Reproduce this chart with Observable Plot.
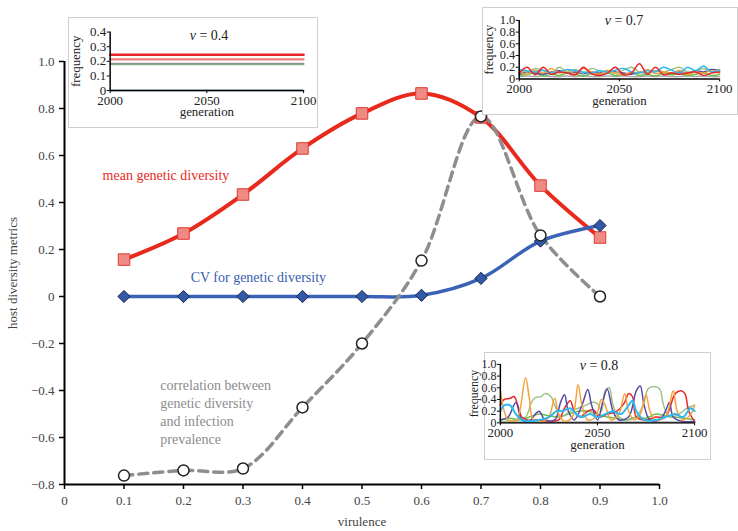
<!DOCTYPE html>
<html><head><meta charset="utf-8">
<script src="https://cdn.jsdelivr.net/npm/d3@7"></script>
<script src="https://cdn.jsdelivr.net/npm/@observablehq/plot@0.6"></script>
<style>
body{margin:0;background:#fff;font-family:"Liberation Serif",serif;}
#wrap{position:relative;width:738px;height:531px;overflow:hidden;}
#wrap > svg{position:absolute;left:0;top:0;}
#wrap svg, #wrap svg text{font-family:"Liberation Serif", serif !important;}
.inset{position:absolute;background:#fff;border:1px solid #cfcfcf;box-sizing:border-box;}
.inset svg{overflow:visible;position:absolute;left:-1px;top:-1px;}
.ititle{position:absolute;font-size:14px;color:#222;transform:translate(-50%,-50%);white-space:nowrap;font-family:"Liberation Serif",serif;}
</style></head><body><div id="wrap"></div>
<script>
// ---------- main chart data ----------
const virulence = [0.1, 0.2, 0.3, 0.4, 0.5, 0.6, 0.7, 0.8, 0.9];
const meanDiversity = [0.157, 0.268, 0.434, 0.63, 0.779, 0.864, 0.762, 0.472, 0.251];
const cvDiversity = [0, 0, 0, 0, 0, 0.005, 0.077, 0.236, 0.302];
const correlation = [-0.762, -0.74, -0.732, -0.472, -0.2, 0.153, 0.766, 0.26, 0.0];
const xTicks = [0, 0.1, 0.2, 0.3, 0.4, 0.5, 0.6, 0.7, 0.8, 0.9, 1.0];
const yTicks = [-0.8, -0.6, -0.4, -0.2, 0, 0.2, 0.4, 0.6, 0.8, 1.0];

// annotation labels (data coordinates)
const labelMean = {x: 0.064, y: 0.515, text: "mean genetic diversity"};
const labelCV = {x: 0.212, y: 0.081, text: "CV for genetic diversity"};
const labelCorr = {x: 0.161, y: -0.374, text: "correlation between\ngenetic diversity\nand infection\nprevalence"};

// ---------- inset v = 0.4 ----------
const gen04 = [2000, 2100];
const v04Red = [0.245, 0.245];
const v04Pink = [0.214, 0.214];
const v04Gray = [0.184, 0.184];
const v04Green = [0.179, 0.179];
const v04Blue = [0.0, 0.0];

// ---------- inset v = 0.7 (every 4 generations) ----------
const gen07 = [2000,2004,2008,2012,2016,2020,2024,2028,2032,2036,2040,2044,2048,2052,2056,2060,2064,2068,2072,2076,2080,2084,2088,2092,2096,2100];
const v07Red    = [0.10,0.20,0.07,0.20,0.08,0.12,0.10,0.07,0.20,0.09,0.06,0.10,0.20,0.07,0.10,0.26,0.08,0.20,0.07,0.10,0.08,0.10,0.12,0.06,0.10,0.12];
const v07Orange = [0.12,0.08,0.15,0.10,0.18,0.10,0.16,0.08,0.18,0.12,0.08,0.15,0.10,0.07,0.12,0.10,0.16,0.09,0.12,0.10,0.15,0.08,0.12,0.10,0.14,0.10];
const v07Sage   = [0.15,0.12,0.18,0.14,0.10,0.20,0.12,0.16,0.10,0.18,0.14,0.12,0.10,0.15,0.20,0.12,0.10,0.14,0.12,0.16,0.20,0.12,0.14,0.18,0.12,0.16];
const v07Cyan   = [0.16,0.14,0.12,0.15,0.10,0.12,0.16,0.14,0.12,0.10,0.14,0.12,0.15,0.18,0.12,0.10,0.14,0.12,0.20,0.15,0.10,0.20,0.14,0.22,0.12,0.15];
const v07Purple = [0.08,0.12,0.10,0.08,0.12,0.14,0.10,0.12,0.09,0.12,0.10,0.14,0.12,0.10,0.08,0.12,0.10,0.14,0.12,0.10,0.12,0.10,0.14,0.12,0.16,0.14];
const v07Green  = [0.06,0.08,0.10,0.05,0.08,0.06,0.10,0.08,0.05,0.09,0.07,0.10,0.06,0.08,0.10,0.06,0.08,0.05,0.10,0.07,0.09,0.06,0.08,0.10,0.06,0.08];
const v07Gray   = [0.04,0.05,0.04,0.05,0.04,0.04,0.05,0.04,0.05,0.04,0.04,0.05,0.04,0.05,0.04,0.04,0.05,0.04,0.05,0.04,0.04,0.05,0.04,0.05,0.04,0.04];

// ---------- inset v = 0.8 ([generation, frequency]) ----------
const v08Orange = [[2000,0.55],[2002,0.2],[2004,0.05],[2008,0.03],[2010,0.2],[2013,0.77],[2015,0.4],[2017,0.05],[2022,0.03],[2025,0.1],[2028,0.42],[2030,0.15],[2033,0.03],[2037,0.1],[2040,0.65],[2042,0.3],[2045,0.05],[2049,0.1],[2052,0.4],[2054,0.3],[2057,0.05],[2061,0.15],[2064,0.5],[2066,0.2],[2069,0.05],[2072,0.15],[2075,0.48],[2077,0.2],[2080,0.05],[2085,0.1],[2089,0.55],[2091,0.2],[2094,0.05],[2098,0.15],[2100,0.3]];
const v08Purple = [[2000,0.05],[2004,0.1],[2008,0.35],[2011,0.05],[2015,0.03],[2018,0.15],[2020,0.2],[2023,0.05],[2028,0.05],[2031,0.35],[2033,0.48],[2035,0.2],[2038,0.05],[2042,0.3],[2045,0.57],[2047,0.3],[2050,0.05],[2053,0.4],[2055,0.58],[2058,0.2],[2061,0.05],[2066,0.1],[2070,0.55],[2072,0.63],[2074,0.3],[2077,0.05],[2082,0.05],[2085,0.2],[2087,0.35],[2089,0.1],[2093,0.03],[2100,0.02]];
const v08Red = [[2000,0.3],[2002,0.4],[2005,0.42],[2007,0.45],[2009,0.3],[2011,0.1],[2014,0.05],[2020,0.05],[2025,0.03],[2030,0.05],[2033,0.25],[2036,0.38],[2038,0.2],[2041,0.1],[2045,0.2],[2048,0.22],[2051,0.1],[2055,0.15],[2060,0.2],[2064,0.35],[2066,0.5],[2068,0.45],[2070,0.1],[2075,0.05],[2080,0.1],[2085,0.1],[2090,0.5],[2093,0.55],[2095,0.5],[2097,0.2],[2100,0.02]];
const v08Sage = [[2000,0.02],[2008,0.05],[2013,0.1],[2016,0.35],[2018,0.43],[2021,0.45],[2023,0.5],[2026,0.45],[2028,0.3],[2031,0.1],[2036,0.2],[2040,0.25],[2044,0.3],[2047,0.35],[2050,0.33],[2052,0.2],[2054,0.55],[2056,0.6],[2058,0.3],[2061,0.1],[2065,0.05],[2070,0.1],[2074,0.35],[2076,0.58],[2079,0.62],[2082,0.58],[2084,0.3],[2087,0.1],[2092,0.15],[2096,0.25],[2100,0.3]];
const v08Cyan = [[2000,0.2],[2002,0.3],[2005,0.3],[2008,0.15],[2011,0.05],[2015,0.03],[2020,0.05],[2025,0.1],[2029,0.2],[2032,0.2],[2036,0.25],[2039,0.15],[2042,0.1],[2046,0.15],[2050,0.1],[2054,0.15],[2058,0.2],[2062,0.15],[2066,0.3],[2068,0.38],[2070,0.2],[2074,0.05],[2080,0.05],[2085,0.1],[2090,0.15],[2094,0.1],[2098,0.25],[2100,0.2]];
const v08Green = [[2000,0.05],[2005,0.08],[2010,0.05],[2015,0.1],[2020,0.15],[2025,0.12],[2030,0.1],[2035,0.15],[2040,0.2],[2045,0.2],[2050,0.15],[2055,0.1],[2060,0.08],[2065,0.05],[2070,0.1],[2075,0.08],[2080,0.15],[2085,0.12],[2090,0.1],[2095,0.08],[2100,0.05]];
const v08Gray = [[2000,0.01],[2050,0.01],[2100,0.01]];

const C = {red:"#e8262a", orange:"#f7a13a", sage:"#9cc38a", cyan:"#2bb8f0", purple:"#5a48a8", green:"#6cc04a", gray:"#a8a8a8", pink:"#f07a7a", slate:"#8a9890", lblue:"#a6ccd8"};

const font = "'Liberation Serif', serif";
const fmt1 = d => d === 0 ? "0" : (d < 0 ? "\u2212" + Math.abs(d).toFixed(1) : d.toFixed(1));

// ---------- main plot ----------
const rows = virulence.map((v, i) => ({v, mean: meanDiversity[i], cv: cvDiversity[i], corr: correlation[i]}));

const main = Plot.plot({
  width: 738, height: 531,
  marginLeft: 64, marginRight: 79, marginTop: 61, marginBottom: 47,
  style: {fontFamily: font, fontSize: "13px", color: "#000", background: "transparent"},
  x: {domain: [0, 1]},
  y: {domain: [-0.8, 1.0]},
  marks: [
    Plot.axisX({ticks: xTicks, tickFormat: d => d === 0 ? "0" : d.toFixed(1), tickSize: 5, tickPadding: 6, fill: "#444", strokeWidth: 1.5,
      label: "virulence", labelAnchor: "center", labelOffset: 41, labelArrow: "none"}),
    Plot.axisY({ticks: yTicks, tickFormat: fmt1, tickSize: 5, tickPadding: 5, fill: "#444", strokeWidth: 1.5,
      label: "host diversity metrics", labelAnchor: "center", labelOffset: 57, labelArrow: "none"}),
    Plot.ruleX([0], {y1: -0.8, y2: 1.0, stroke: "#000", strokeWidth: 2}),
    Plot.ruleY([-0.8], {x1: 0, x2: 1, stroke: "#000", strokeWidth: 2}),
    Plot.line(rows, {x: "v", y: "mean", curve: "catmull-rom", stroke: "#e8291c", strokeWidth: 4}),
    Plot.line(rows, {x: "v", y: "cv", curve: "catmull-rom", stroke: "#3a62b6", strokeWidth: 3.5}),
    Plot.line(rows, {x: "v", y: "corr", curve: "catmull-rom", stroke: "#8e8e8e", strokeWidth: 3.5, strokeDasharray: "9,6"}),
    Plot.dot(rows, {x: "v", y: "mean", symbol: "square", r: 6.5, fill: "#f08a84", stroke: "#dd3a30", strokeWidth: 1}),
    Plot.dot(rows, {x: "v", y: "cv", symbol: "diamond2", r: 5.5, fill: "#3458a8", stroke: "#15244a", strokeWidth: 1}),
    Plot.dot(rows, {x: "v", y: "corr", symbol: "circle", r: 5.5, fill: "#fff", stroke: "#222", strokeWidth: 1.5}),
    Plot.text([labelMean], {x: "x", y: "y", text: "text", textAnchor: "start", fill: "#e8291c", fontSize: 14}),
    Plot.text([labelCV], {x: "x", y: "y", text: "text", textAnchor: "start", fill: "#3a5cb0", fontSize: 14}),
    Plot.text([labelCorr], {x: "x", y: "y", text: "text", textAnchor: "start", lineAnchor: "middle", lineHeight: 1.29, fill: "#8c8c8c", fontSize: 14, dy: 27})
  ]
});
const wrap = document.getElementById("wrap");
wrap.appendChild(main);

// ---------- insets ----------
function toRows(gens, vals, key) { return gens.map((g, i) => ({g, f: vals[i], key})); }
function pairRows(pairs, key) { return pairs.map(([g, f]) => ({g, f, key})); }

function inset(o) {
  const div = document.createElement("div");
  div.className = "inset";
  Object.assign(div.style, {left: o.box[0] + "px", top: o.box[1] + "px", width: o.box[2] + "px", height: o.box[3] + "px"});
  const svg = Plot.plot({
    width: o.box[2], height: o.box[3],
    marginLeft: o.area[0] - o.box[0], marginRight: o.box[0] + o.box[2] - o.area[1],
    marginTop: o.area[2] - o.box[1], marginBottom: o.box[1] + o.box[3] - o.area[3],
    style: {fontFamily: font, fontSize: "13px", color: "#000", background: "transparent", overflow: "visible"},
    x: {domain: [2000, 2100]},
    y: {domain: o.yDomain},
    marks: [
      ...o.series.map(s => Plot.line(s.data, {x: "g", y: "f", curve: "catmull-rom", stroke: s.color, strokeWidth: s.w || 1.5})),
      Plot.axisX({ticks: [2000, 2050, 2100], tickFormat: d => String(d), tickSize: 3, tickPadding: 2, fill: "#222",
        label: "generation", labelAnchor: "center", labelOffset: o.xlabOff, labelArrow: "none"}),
      Plot.axisY({ticks: o.yTicks, tickFormat: d => d === 0 ? "0" : d.toFixed(1), tickSize: 3, tickPadding: 1, fill: "#222", fontSize: o.yFont || 13,
        label: "frequency", labelAnchor: "center", labelOffset: o.ylabOff, labelArrow: "none"}),
      Plot.ruleX([2000], {y1: o.yDomain[0], y2: o.yDomain[1], stroke: "#000", strokeWidth: 1.5}),
      Plot.ruleY([0], {x1: 2000, x2: 2100, stroke: "#000", strokeWidth: 1.5})
    ]
  });
  div.appendChild(svg);
  const t = document.createElement("div");
  t.className = "ititle";
  t.innerHTML = "<i>v</i> = " + o.title;
  Object.assign(t.style, {left: o.titlePos[0] + "px", top: o.titlePos[1] + "px"});
  div.appendChild(t);
  wrap.appendChild(div);
}

inset({
  box: [68, 17, 250, 111], area: [110, 305, 31.7, 90.7],
  yDomain: [0, 0.4], yTicks: [0, 0.1, 0.2, 0.3, 0.4], xlabOff: 26, ylabOff: 40,
  title: "0.4", titlePos: [140, 18],
  series: [
    {data: toRows(gen04, v04Blue, "b"), color: C.lblue, w: 2},
    {data: toRows(gen04, v04Green, "g"), color: "#86b486", w: 1.5},
    {data: toRows(gen04, v04Gray, "s"), color: C.slate, w: 1.8},
    {data: toRows(gen04, v04Pink, "p"), color: C.pink, w: 2.2},
    {data: toRows(gen04, v04Red, "r"), color: C.red, w: 2.5}
  ]
});

inset({
  box: [482, 7, 256, 108], area: [519, 721, 20, 79],
  yDomain: [0, 1], yTicks: [0, 0.2, 0.4, 0.6, 0.8, 1.0], xlabOff: 26, ylabOff: 35, yFont: 12.5,
  title: "0.7", titlePos: [141, 13],
  series: [
    {data: toRows(gen07, v07Gray, "gr"), color: C.gray},
    {data: toRows(gen07, v07Green, "g"), color: C.green},
    {data: toRows(gen07, v07Purple, "p"), color: C.purple},
    {data: toRows(gen07, v07Sage, "s"), color: C.sage},
    {data: toRows(gen07, v07Orange, "o"), color: C.orange},
    {data: toRows(gen07, v07Cyan, "c"), color: C.cyan},
    {data: toRows(gen07, v07Red, "r"), color: C.red}
  ]
});

inset({
  box: [484, 352, 227, 108], area: [500, 696, 364, 423],
  yDomain: [0, 1], yTicks: [0, 0.2, 0.4, 0.6, 0.8, 1.0], xlabOff: 26, ylabOff: 31, yFont: 12,
  title: "0.8", titlePos: [114, 13],
  series: [
    {data: pairRows(v08Gray, "gr"), color: C.gray, w: 2},
    {data: pairRows(v08Green, "g"), color: C.green},
    {data: pairRows(v08Sage, "s"), color: C.sage},
    {data: pairRows(v08Red, "r"), color: C.red},
    {data: pairRows(v08Purple, "p"), color: C.purple},
    {data: pairRows(v08Orange, "o"), color: C.orange},
    {data: pairRows(v08Cyan, "c"), color: C.cyan, w: 2}
  ]
});
</script>
</body></html>
